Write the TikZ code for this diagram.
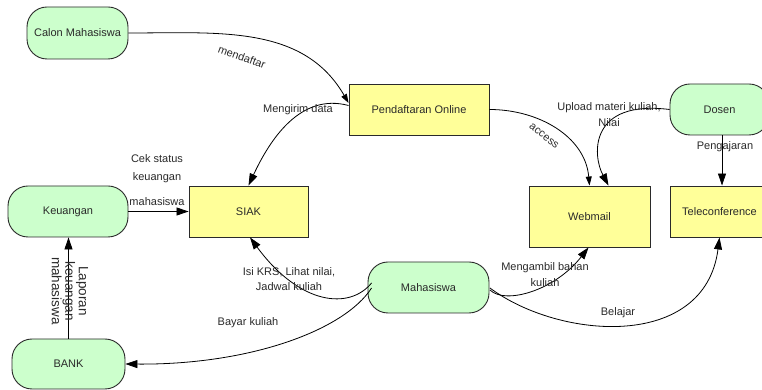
\documentclass[tikz,border=0pt]{standalone}
\usepackage{fontspec}
\setmainfont{Liberation Sans}
\usetikzlibrary{arrows.meta}
\definecolor{termgreen}{HTML}{CCFFCC}
\definecolor{procyellow}{HTML}{FFFF99}
\definecolor{ink}{HTML}{2A2A2A}

\begin{document}
\begin{tikzpicture}[x=1pt,y=1pt,
  every node/.style={font=\fontsize{11}{16}\selectfont, text=ink},
  terminal/.style={draw=ink, fill=termgreen, rounded corners=20pt, line width=0.9pt, inner sep=0pt},
  process/.style={draw=ink, fill=procyellow, line width=0.9pt, inner sep=0pt},
  flow/.style={draw=black, line width=0.8pt, -{Triangle[length=12pt,width=8pt]}},
  thinflow/.style={draw=black, line width=0.8pt, -{Triangle[length=9pt,width=6pt]}},
  lbl/.style={align=center, inner sep=1pt},
]
\useasboundingbox (0,0) rectangle (762,390);
\fill[white] (0,0) rectangle (762,390);

% external entities and processes
\node[terminal, minimum width=101pt, minimum height=52pt] (calon) at (77.5,357) {Calon Mahasiswa};
\node[process, minimum width=140pt, minimum height=51pt] (pend) at (419,280.5) {Pendaftaran Online};
\node[terminal, minimum width=99pt, minimum height=51pt] (dosen) at (719.5,280.5) {Dosen};
\node[terminal, minimum width=120pt, minimum height=51pt] (keu) at (68,178.5) {Keuangan};
\node[process, minimum width=119pt, minimum height=51pt] (siak) at (248.5,178.5) {SIAK};
\node[process, minimum width=121pt, minimum height=61pt] (web) at (589.5,173.5) {Webmail};
\node[process, minimum width=99pt, minimum height=51pt] (tele) at (719.5,178.5) {Teleconference};
\node[terminal, minimum width=121pt, minimum height=51pt] (maha) at (428.5,102.5) {Mahasiswa};
\node[terminal, minimum width=113pt, minimum height=50pt] (bank) at (68.5,26) {BANK};

% data flows
\draw[thinflow] (calon.east) to[out=0,in=120] ([yshift=6.5pt]pend.west);
\draw[flow] ([yshift=4pt]pend.west) to[out=165,in=65] (siak.north);
\draw[thinflow] (pend.east) to[out=0,in=95] (web.north);
\draw[flow] (dosen.west) .. controls +(-80,10) and +(-16.5,31) .. ([xshift=19pt]web.north);
\draw[flow] ([xshift=2.5pt]dosen.south) -- ([xshift=2.5pt]tele.north);
\draw[flow] (keu) -- (siak);
\draw[flow] (bank.north) -- (bank.north |- keu.south);
\draw[flow] ([shift={(4pt,4.5pt)}]maha.west) .. controls +(-22,-27) and +(50,-68) .. ([xshift=1.5pt]siak.south);
\draw[flow] ([shift={(4pt,-0.5pt)}]maha.west) .. controls +(-27,-42) and +(125,-1) .. (bank.east);
\draw[flow] ([shift={(0.5pt,-2.5pt)}]maha.east) .. controls +(15.5,-15) and +(-33.5,-43) .. ([xshift=-1pt]web.south);
\draw[flow] ([shift={(0.5pt,-0.5pt)}]maha.east) .. controls +(70,-52) and +(-14.5,-113) .. (tele.south);

% flow labels
\node[lbl, rotate=-20] (lmendaftar) at (242,333) {mendaftar};
\node[lbl] (lkirim) at (298,280) {Mengirim data};
\node[lbl, rotate=-38] (laccess) at (544,254) {access};
\node[lbl] (lupload) at (609,275) {Upload materi kuliah,\\Nilai};
\node[lbl] (lpengajaran) at (725,243) {Pengajaran};
\node[lbl] (lcek) at (157,209.5) {Cek status\\[2pt]keuangan\\[9pt]mahasiswa};
\node[lbl] (lkrs) at (289,110.5) {Isi KRS, Lihat nilai,\\[-1pt]Jadwal kuliah};
\node[lbl] (lbayar) at (248,67) {Bayar kuliah};
\node[lbl, rotate=-90, font=\fontsize{13.5}{13.5}\selectfont] (llaporan) at (70,99) {Laporan\\keuangan\\mahasiswa};
\node[lbl] (lambil) at (545,115.5) {Mengambil bahan\\kuliah};
\node[lbl] (lbelajar) at (618,77) {Belajar};
\end{tikzpicture}
\end{document}
